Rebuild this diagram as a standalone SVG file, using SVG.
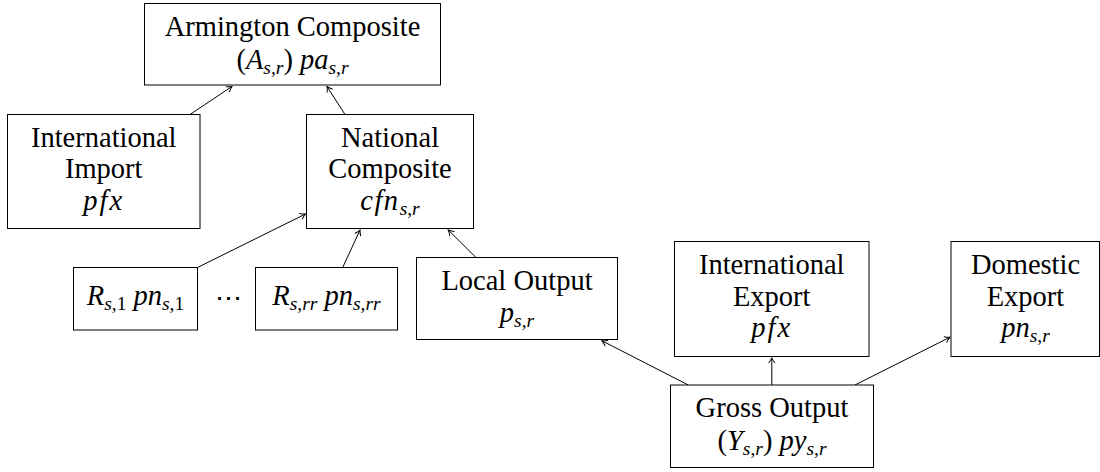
<svg xmlns="http://www.w3.org/2000/svg" width="1100" height="472" viewBox="0 0 1100 472">
  <style>
    .box { fill: #fff; stroke: #000; stroke-width: 1; }
    .lbl { font-family: "Liberation Serif", "Times New Roman", serif; font-size: 28.5px; fill: #000; text-anchor: middle; }
    .it { font-style: italic; }
    .sub { font-size: 19.5px; }
    .dots { font-family: "DejaVu Serif", serif; font-size: 27px; fill: #000; text-anchor: middle; }
    .edge { fill: none; stroke: #000; stroke-width: 1; marker-end: url(#tip); }
  </style>
  <defs>
    <marker id="tip" viewBox="-6 -4 7 8" refX="0" refY="0" markerWidth="7" markerHeight="8" orient="auto" markerUnits="userSpaceOnUse">
      <path d="M-5,-3 Q-2,-0.7 0,0 Q-2,0.7 -5,3" fill="none" stroke="#000" stroke-width="1" stroke-linecap="round"/>
    </marker>
  </defs>

  <rect width="1100" height="472" fill="#fff"/>

  <!-- connectors -->
  <g id="connectors">
    <line class="edge" x1="190" y1="114.5" x2="232" y2="86.5"/>
    <line class="edge" x1="345" y1="114.5" x2="327" y2="86.5"/>
    <line class="edge" x1="197.5" y1="267.5" x2="305.5" y2="214"/>
    <line class="edge" x1="342.7" y1="267.5" x2="360" y2="230"/>
    <line class="edge" x1="476" y1="257.5" x2="448.3" y2="230"/>
    <line class="edge" x1="688.3" y1="385" x2="602" y2="340.8"/>
    <line class="edge" x1="771.8" y1="385" x2="771.8" y2="357.8"/>
    <line class="edge" x1="855" y1="385" x2="950" y2="337.2"/>
  </g>

  <!-- Armington composite -->
  <g id="armington">
    <rect class="box" x="144.5" y="3.5" width="296" height="81.5"/>
    <text class="lbl" x="292.5" y="35.5">Armington Composite</text>
    <text class="lbl" x="292.5" y="68.5">(<tspan class="it">A</tspan><tspan class="sub it" dy="5">s</tspan><tspan class="sub" >,</tspan><tspan class="sub it">r</tspan><tspan dy="-5">) </tspan><tspan class="it">pa</tspan><tspan class="sub it" dy="5">s</tspan><tspan class="sub">,</tspan><tspan class="sub it">r</tspan></text>
  </g>

  <!-- International import -->
  <g id="intl-import">
    <rect class="box" x="7.5" y="114.5" width="192.5" height="114"/>
    <text class="lbl" x="103.75" y="146.7">International</text>
    <text class="lbl" x="103.75" y="178.3">Import</text>
    <text class="lbl it" x="103.75" y="210" letter-spacing="2">pfx</text>
  </g>

  <!-- National composite -->
  <g id="national">
    <rect class="box" x="306.5" y="114.5" width="167" height="114"/>
    <text class="lbl" x="390" y="146.7">National</text>
    <text class="lbl" x="390" y="178.3">Composite</text>
    <text class="lbl" x="390" y="210"><tspan class="it" letter-spacing="1.5">cfn</tspan><tspan class="sub it" dy="5">s</tspan><tspan class="sub">,</tspan><tspan class="sub it">r</tspan></text>
  </g>

  <!-- Regional supply, first region -->
  <g id="region-1">
    <rect class="box" x="73.5" y="267.5" width="124" height="62.5"/>
    <text class="lbl" x="135.5" y="305"><tspan class="it">R</tspan><tspan class="sub it" dy="5">s</tspan><tspan class="sub">,1</tspan><tspan dy="-5"> </tspan><tspan class="it">pn</tspan><tspan class="sub it" dy="5">s</tspan><tspan class="sub">,1</tspan></text>
  </g>

  <text class="dots" x="228.3" y="307">⋯</text>

  <!-- Regional supply, last region -->
  <g id="region-rr">
    <rect class="box" x="255.5" y="267.5" width="142" height="62.5"/>
    <text class="lbl" x="326.5" y="305"><tspan class="it">R</tspan><tspan class="sub it" dy="5">s</tspan><tspan class="sub">,</tspan><tspan class="sub it">rr</tspan><tspan dy="-5"> </tspan><tspan class="it">pn</tspan><tspan class="sub it" dy="5">s</tspan><tspan class="sub">,</tspan><tspan class="sub it">rr</tspan></text>
  </g>

  <!-- Local output -->
  <g id="local-output">
    <rect class="box" x="416.5" y="257.5" width="201" height="82"/>
    <text class="lbl" x="517" y="289.5">Local Output</text>
    <text class="lbl" x="517" y="321.5"><tspan class="it">p</tspan><tspan class="sub it" dy="5">s</tspan><tspan class="sub">,</tspan><tspan class="sub it">r</tspan></text>
  </g>

  <!-- International export -->
  <g id="intl-export">
    <rect class="box" x="674.5" y="241.5" width="194.5" height="115"/>
    <text class="lbl" x="771.75" y="273.5">International</text>
    <text class="lbl" x="771.75" y="305.5">Export</text>
    <text class="lbl it" x="771.75" y="337" letter-spacing="2">pfx</text>
  </g>

  <!-- Domestic export -->
  <g id="domestic-export">
    <rect class="box" x="951" y="241.5" width="148.5" height="115"/>
    <text class="lbl" x="1025.5" y="273.5">Domestic</text>
    <text class="lbl" x="1025.5" y="305.5">Export</text>
    <text class="lbl" x="1025.5" y="337"><tspan class="it">pn</tspan><tspan class="sub it" dy="5">s</tspan><tspan class="sub">,</tspan><tspan class="sub it">r</tspan></text>
  </g>

  <!-- Gross output -->
  <g id="gross-output">
    <rect class="box" x="670.5" y="385" width="203" height="82.5"/>
    <text class="lbl" x="772" y="417.3">Gross Output</text>
    <text class="lbl" x="772" y="450">(<tspan class="it">Y</tspan><tspan class="sub it" dy="5">s</tspan><tspan class="sub">,</tspan><tspan class="sub it">r</tspan><tspan dy="-5">) </tspan><tspan class="it">py</tspan><tspan class="sub it" dy="5">s</tspan><tspan class="sub">,</tspan><tspan class="sub it">r</tspan></text>
  </g>
</svg>
